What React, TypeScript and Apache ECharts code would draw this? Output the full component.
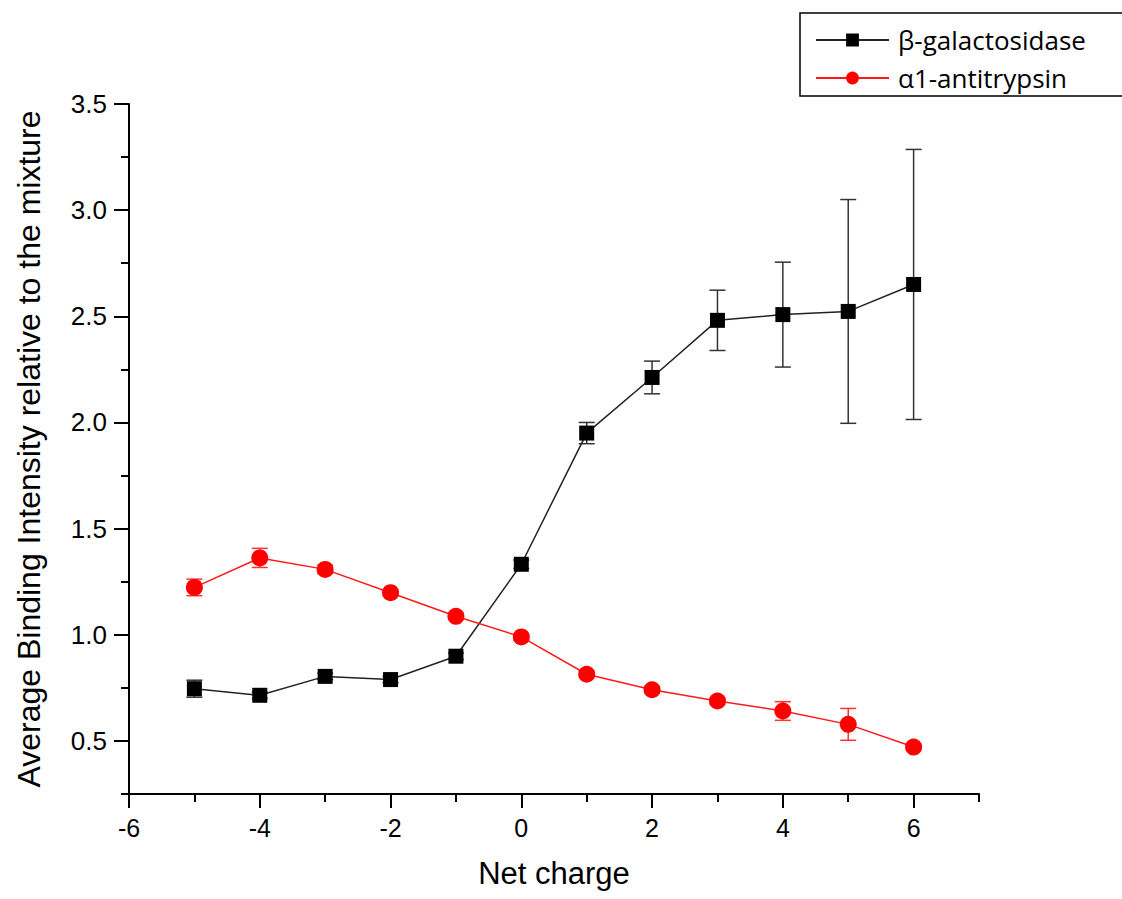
import React, { useEffect, useRef } from "react";
import * as echarts from "echarts";

const netCharge = [-5, -4, -3, -2, -1, 0, 1, 2, 3, 4, 5, 6];
const galValues = [0.746, 0.715, 0.804, 0.789, 0.899, 1.332, 1.95, 2.212, 2.481, 2.508, 2.523, 2.65];
const galErrors = [0.04, 0.015, 0.015, 0.015, 0.015, 0.02, 0.05, 0.077, 0.142, 0.247, 0.527, 0.636];
const antValues = [1.223, 1.362, 1.308, 1.198, 1.087, 0.99, 0.814, 0.741, 0.688, 0.641, 0.578, 0.471];
const antErrors = [0.039, 0.045, 0.02, 0.015, 0.015, 0.015, 0.015, 0.015, 0.015, 0.044, 0.075, 0.015];
const xMajorTicks = [-6, -4, -2, 0, 2, 4, 6];
const yMajorTicks = [0.5, 1.0, 1.5, 2.0, 2.5, 3.0, 3.5];

const errData = (vals: number[], errs: number[]) =>
  netCharge.map((x, i) => [x, vals[i] - errs[i], vals[i] + errs[i]]);

const errRender = (color: string, cap: number) => (params: any, api: any) => {
  const x = api.value(0);
  const lo = api.coord([x, api.value(1)]);
  const hi = api.coord([x, api.value(2)]);
  const style = { stroke: color, lineWidth: 1.5 };
  return {
    type: "group",
    children: [
      { type: "line", shape: { x1: lo[0], y1: lo[1], x2: hi[0], y2: hi[1] }, style },
      { type: "line", shape: { x1: lo[0] - cap / 2, y1: lo[1], x2: lo[0] + cap / 2, y2: lo[1] }, style },
      { type: "line", shape: { x1: hi[0] - cap / 2, y1: hi[1], x2: hi[0] + cap / 2, y2: hi[1] }, style },
    ],
  };
};

export default function App() {
  const ref = useRef<HTMLDivElement>(null);
  useEffect(() => {
    if (!ref.current) return;
    const chart = echarts.init(ref.current, null, { renderer: "svg" });
    const axisLineStyle = { color: "#000", width: 2 };
    chart.setOption({
      animation: false,
      backgroundColor: "#fff",
      grid: { left: 129, right: 143, top: 104, bottom: 105, containLabel: false },
      xAxis: [
        {
          type: "value",
          min: -6,
          max: 7,
          interval: 1,
          position: "bottom",
          axisLine: { show: true, onZero: false, lineStyle: axisLineStyle },
          axisTick: { show: true, inside: false, length: 8, lineStyle: { color: "#000", width: 2 } },
          axisLabel: {
            customValues: xMajorTicks,
            margin: 21,
            color: "#000",
            fontSize: 25,
            fontFamily: "Liberation Sans Narrow, Liberation Sans, Arial",
          },
          splitLine: { show: false },
          name: "Net charge",
          nameLocation: "middle",
          nameGap: 64,
          nameTextStyle: { fontSize: 31, color: "#000", fontFamily: "Liberation Sans Narrow, Liberation Sans, Arial" },
        },
        {
          type: "value",
          min: -6,
          max: 7,
          interval: 1,
          position: "bottom",
          axisLine: { show: false, onZero: false },
          axisTick: { show: true, inside: false, length: 14, customValues: xMajorTicks, lineStyle: { color: "#000", width: 2 } },
          axisLabel: { show: false },
          splitLine: { show: false },
        },
      ],
      yAxis: [
        {
          type: "value",
          min: 0.25,
          max: 3.5,
          interval: 0.25,
          position: "left",
          axisLine: { show: true, onZero: false, lineStyle: axisLineStyle },
          axisTick: { show: true, inside: false, length: 8, lineStyle: { color: "#000", width: 2 } },
          axisLabel: {
            customValues: yMajorTicks,
            formatter: (v: number) => v.toFixed(1),
            margin: 22,
            color: "#000",
            fontSize: 26,
            fontFamily: "Liberation Sans, Arial",
          },
          splitLine: { show: false },
          name: "Average Binding Intensity relative to the mixture",
          nameLocation: "middle",
          nameGap: 84,
          nameTextStyle: { fontSize: 32, color: "#000", fontFamily: "Liberation Sans, Arial" },
        },
        {
          type: "value",
          min: 0.25,
          max: 3.5,
          interval: 0.25,
          position: "left",
          axisLine: { show: false, onZero: false },
          axisTick: { show: true, inside: false, length: 15, customValues: yMajorTicks, lineStyle: { color: "#000", width: 2 } },
          axisLabel: { show: false },
          splitLine: { show: false },
        },
      ],
      legend: {
        data: ["β-galactosidase", "α1-antitrypsin"],
        orient: "vertical",
        left: 810,
        top: 22,
        itemWidth: 73,
        itemHeight: 16,
        itemGap: 12,
        textStyle: { fontSize: 26, color: "#000", fontFamily: "Open Sans, Noto Sans, sans-serif", padding: [0, 0, 0, 4] },
      },
      graphic: [
        {
          type: "rect",
          shape: { x: 800, y: 13, width: 340, height: 83 },
          style: { fill: "none", stroke: "#000", lineWidth: 1.5 },
        },
      ],
      series: [
        {
          name: "β-galactosidase-err",
          type: "custom",
          renderItem: errRender("#333", 16),
          data: errData(galValues, galErrors),
          encode: { x: 0, y: [1, 2] },
          z: 1,
        },
        {
          name: "α1-antitrypsin-err",
          type: "custom",
          renderItem: errRender("#ff3333", 16),
          data: errData(antValues, antErrors),
          encode: { x: 0, y: [1, 2] },
          z: 1,
        },
        {
          name: "β-galactosidase",
          type: "line",
          data: netCharge.map((x, i) => [x, galValues[i]]),
          symbol: "rect",
          symbolSize: 15,
          lineStyle: { color: "#222", width: 1.5 },
          itemStyle: { color: "#000" },
          z: 3,
        },
        {
          name: "α1-antitrypsin",
          type: "line",
          data: netCharge.map((x, i) => [x, antValues[i]]),
          symbol: "circle",
          symbolSize: 17,
          lineStyle: { color: "#ff1a1a", width: 1.5 },
          itemStyle: { color: "#ff0000" },
          z: 3,
        },
      ],
    });
    return () => chart.dispose();
  }, []);
  return (
    <div
      ref={ref}
      style={{ position: "fixed", left: 0, top: 0, width: 1122, height: 899, background: "#fff" }}
    />
  );
}
